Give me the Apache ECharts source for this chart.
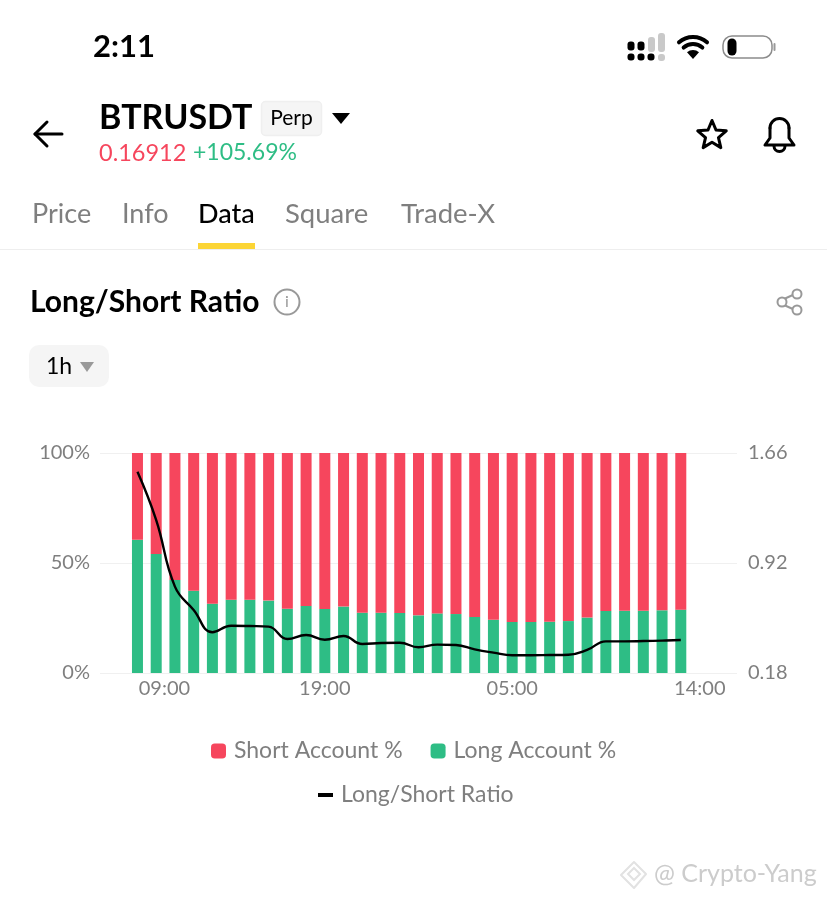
<!DOCTYPE html>
<html><head><meta charset="utf-8">
<style>html,body{margin:0;padding:0;background:#fff}#c{width:827px;height:898px}</style>
<script src="https://cdn.jsdelivr.net/npm/echarts@6/dist/echarts.min.js"></script></head>
<body><div id="c"></div>
<script>
const times=["09:00","10:00","11:00","12:00","13:00","14:00","15:00","16:00","17:00","18:00","19:00","20:00","21:00","22:00","23:00","00:00","01:00","02:00","03:00","04:00","05:00","06:00","07:00","08:00","09:00","10:00","11:00","12:00","13:00","14:00"];
const longPct=[60.6,54.1,42.3,37.4,31.5,33.3,33.3,32.9,29.2,30.5,29.1,30.2,27.4,27.4,27.3,26.2,27.1,26.8,25.5,24.2,23.2,23.2,23.3,23.6,25.2,28.2,28.3,28.3,28.5,28.8];
const shortPct=[39.4,45.9,57.7,62.6,68.5,66.7,66.7,67.1,70.8,69.5,70.9,69.8,72.6,72.6,72.7,73.8,72.9,73.2,74.5,75.8,76.8,76.8,76.7,76.4,74.8,71.8,71.7,71.7,71.5,71.2];
const ratio=[1.534,1.209,0.761,0.604,0.454,0.498,0.496,0.492,0.409,0.436,0.404,0.429,0.375,0.382,0.384,0.353,0.371,0.368,0.339,0.317,0.299,0.299,0.301,0.303,0.335,0.393,0.393,0.395,0.398,0.402];
const tickIndices=[0,10,20,29];
const F='Lato, "Open Sans", sans-serif';
const RED='#f6465d',GREEN='#2ebd85',GRAY='#7f7f7f',DARK='#000';
const PAD_L=2,PAD_R=3;
const axisCats=[...Array(PAD_L).fill(''),...times,...Array(PAD_R).fill('')];
const pair=a=>a.map((v,i)=>[i+PAD_L,v]);
function txt(x,y,text,size,fill,weight,align){return{type:'text',x,y,style:{text,font:(weight||400)+' '+size+'px '+F,fill,textAlign:align||'left',textVerticalAlign:'middle'},silent:true};}
function rr(x,y,w,h,r,fill,stroke){return{type:'rect',shape:{x,y,width:w,height:h,r},style:{fill,stroke:stroke||null,lineWidth:stroke?1.5:0}};}
function tri(x1,x2,y1,y2,fill){return{type:'polygon',shape:{points:[[x1,y1],[x2,y1],[(x1+x2)/2,y2]]},style:{fill}};}
function line(points,stroke,lw){return{type:'polyline',shape:{points},style:{stroke,lineWidth:lw,fill:null,lineCap:'round',lineJoin:'round'}};}
function arc(cx,cy,r,a,b,stroke,lw){return{type:'arc',shape:{cx,cy,r,startAngle:a,endAngle:b,clockwise:true},style:{stroke,lineWidth:lw,fill:null,lineCap:'round'}};}
function circle(cx,cy,r,stroke,lw,fill){return{type:'circle',shape:{cx,cy,r},style:{stroke,lineWidth:lw,fill:fill||null}};}
const star=[];for(let i=0;i<10;i++){const r=i%2?6.8:15,t=-Math.PI/2+i*Math.PI/5;star.push([712+r*Math.cos(t),135.5+r*Math.sin(t)]);}
const dots=[];
[[631,46],[641,46],[631,57],[641,57],[651,57]].forEach(p=>dots.push(rr(p[0]-3.5,p[1]-(p[1]==46?4.5:3.5),7,p[1]==46?9:7,3,'#000')));
dots.push(rr(648,37,7,15,3,'#c9c9c9'),rr(658,33,7,19,3,'#c9c9c9'),rr(658,54,7,7,3,'#c9c9c9'));
const graphic=[
 txt(93,47,'2:11',31,DARK,700),
 ...dots,
 arc(693,58,21,-2.3,-0.84,'#000',4),arc(693,58,14,-2.3,-0.84,'#000',4),
 {type:'sector',shape:{cx:693,cy:59,r:9,startAngle:-2.3,endAngle:-0.84},style:{fill:'#000'}},
 rr(723,36,49,22,9,'#fff','#8c8c8c'),rr(727.5,38.5,9,17,4.5,'#000'),rr(773.5,43,2,8,1,'#9a9a9a'),
 line([[62,134],[35,134]],'#000',3),line([[47,122],[35,134],[47,146]],'#000',3),
 txt(99,118,'BTRUSDT',34,DARK,700),
 rr(261.5,101.5,60,34,4,'#f5f5f5','#efefef'),
 txt(291.5,118.5,'Perp',21,DARK,400,'center'),
 tri(332,350,113,124,'#000'),
 txt(99,153,'0.16912',23.5,RED,400),txt(193,153,'+105.69%',23,GREEN,400),
 {type:'polygon',shape:{points:star},style:{fill:null,stroke:'#000',lineWidth:3,lineJoin:'round'}},
 arc(779.5,128,9.5,Math.PI,0,'#000',3),
 line([[770,128],[770,138],[765,145],[794,145],[789,138],[789,128]],'#000',3),
 arc(779.5,146,5.5,0,Math.PI,'#000',3),
 txt(32,214,'Price',27,GRAY),txt(122,214,'Info',27,GRAY),txt(198,214,'Data',27,DARK,500),
 txt(285,214,'Square',27.5,GRAY),txt(401,214,'Trade-X',27.5,GRAY),
 {type:'rect',shape:{x:0,y:249,width:827,height:1},style:{fill:'#eeeeee'}},
 rr(198,243,57,6,0,'#fcd535'),
 txt(30,302,'Long/Short Ratio',30,DARK,700),
 circle(287,302,12.5,'#999',2),txt(287,302,'i',16,'#999',400,'center'),
 line([[784,299],[795,294]],'#999',2),line([[784,305],[795,310]],'#999',2),
 circle(797,294,4.5,'#999',2,'#fff'),circle(782,302,4.5,'#999',2,'#fff'),circle(797,310,4.5,'#999',2,'#fff'),
 rr(29,345,80,42,10,'#f5f5f5'),
 txt(46,367,'1h',23,DARK,400),
 tri(80,94,362,372,'#999'),
 {type:'polygon',shape:{points:[[634,862],[646,874],[634,888],[621,875]]},style:{fill:null,stroke:'#e2e2e2',lineWidth:2,lineJoin:'round'}},
 {type:'polygon',shape:{points:[[634,868],[640,874],[634,880],[628,874]]},style:{fill:null,stroke:'#e2e2e2',lineWidth:2}},
 txt(654,874,'@ Crypto-Yang',25,'#cccccc',400)
];
const labelStyle={color:GRAY,fontFamily:F,fontSize:20};
const option={
 animation:false,backgroundColor:'#fff',
 grid:{left:100,top:453,width:637,height:220,containLabel:false},
 legend:[
  {left:211,top:739.5,padding:0,orient:'horizontal',icon:'roundRect',itemWidth:15,itemHeight:15,itemGap:28,data:['Short Account %','Long Account %'],textStyle:{fontFamily:F,fontSize:23,color:GRAY,padding:[0,0,0,3]}},
  {left:318,top:783.5,padding:0,orient:'horizontal',icon:'rect',itemWidth:15,itemHeight:4,data:[{name:'Long/Short Ratio',itemStyle:{color:'#000'}}],textStyle:{fontFamily:F,fontSize:23,color:GRAY,padding:[0,0,0,3]}}
 ],
 xAxis:{type:'category',data:axisCats,boundaryGap:false,splitLine:{show:false},axisLine:{show:false},axisTick:{show:false},
  axisLabel:{margin:6,...labelStyle,hideOverlap:false,
   interval:i=>tickIndices.includes(i-PAD_L),
   formatter:(v,i)=>{const k=i-PAD_L;return k===0?'{a|'+v+'}':k===29?'{b|'+v+'}':v;},
   rich:{a:{padding:[0,0,0,54],...labelStyle},b:{padding:[0,0,0,38],...labelStyle}}}},
 yAxis:[
  {type:'value',min:0,max:100,interval:50,axisLine:{show:false},axisTick:{show:false},splitLine:{lineStyle:{color:'#f0f0f0',width:1}},
   axisLabel:{formatter:'{value}%',margin:10,...labelStyle}},
  {type:'value',min:0.18,max:1.66,interval:0.74,axisLine:{show:false},axisTick:{show:false},splitLine:{show:false},
   axisLabel:{formatter:v=>v.toFixed(2),margin:11,...labelStyle}}
 ],
 series:[
  {name:'Long Account %',type:'bar',stack:'acc',barWidth:11,data:pair(longPct),itemStyle:{color:GREEN}},
  {name:'Short Account %',type:'bar',stack:'acc',barWidth:11,data:pair(shortPct),itemStyle:{color:RED}},
  {name:'Long/Short Ratio',type:'line',yAxisIndex:1,smooth:0.45,symbol:'none',data:pair(ratio),lineStyle:{color:'#000',width:2.4},itemStyle:{color:'#000'}}
 ],
 graphic:{elements:graphic}
};
const chart=echarts.init(document.getElementById('c'),null,{renderer:'canvas',width:827,height:898});
chart.setOption(option);
</script></body></html>
